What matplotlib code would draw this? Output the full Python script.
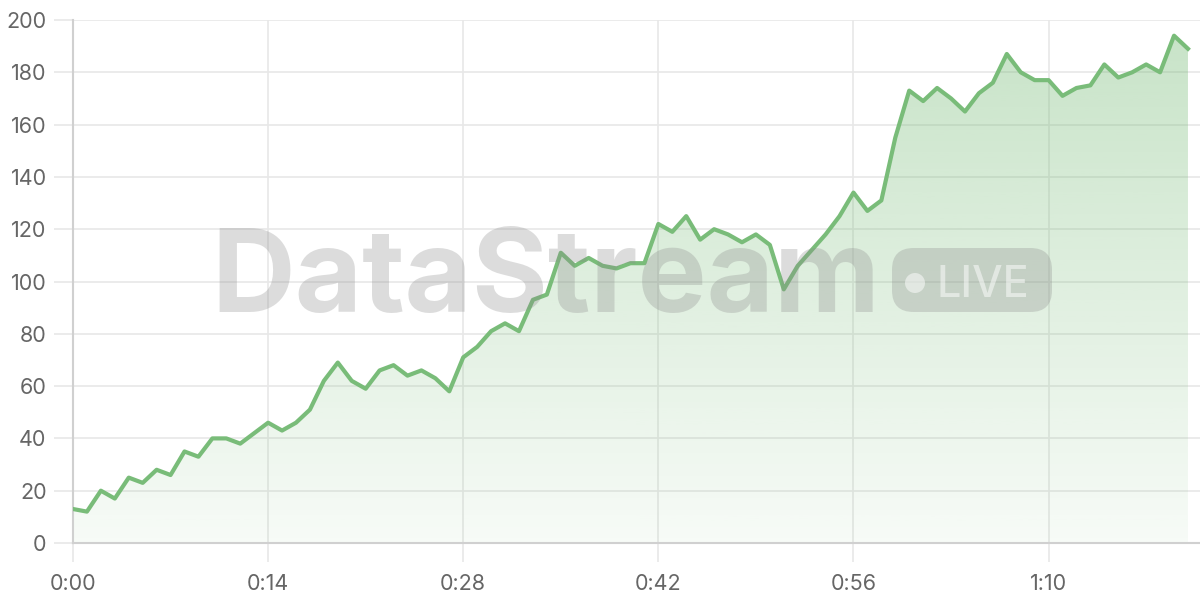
import matplotlib.pyplot as plt
import numpy as np
from matplotlib.patches import FancyBboxPatch, Ellipse

# seconds since start, one sample per second
t = np.arange(81)
vals = [13, 12, 20, 17, 25, 23, 28, 26, 35, 33,
        40, 40, 38, 42, 46, 43, 46, 51, 62, 69,
        62, 59, 66, 68, 64, 66, 63, 58, 71, 75,
        81, 84, 81, 93, 95, 111, 106, 109, 106, 105,
        107, 107, 122, 119, 125, 116, 120, 118, 115, 118,
        114, 97, 106, 112, 118, 125, 134, 127, 131, 155,
        173, 169, 174, 170, 165, 172, 176, 187, 180, 177,
        177, 171, 174, 175, 183, 178, 180, 183, 180, 194,
        189]
xticks = [0, 14, 28, 42, 56, 70]
xtick_labels = ["0:00", "0:14", "0:28", "0:42", "0:56", "1:10"]
yticks = list(range(0, 201, 20))

line_col = "#79bc79"
grid_col = "#e8e8e8"
text_col = "#666666"

plt.rcParams['font.family'] = ['Inter', 'DejaVu Sans']

fig = plt.figure(figsize=(12, 6), dpi=100)
ax = fig.add_axes([73/1200, 57/600, 1127/1200, 523/600])
xmax = 80 + 12/13.9
ax.set_xlim(0, xmax)
ax.set_ylim(0, 200)

# gradient fill under the line
alpha = np.linspace(0.06, 0.42, 256)
rgba = np.zeros((256, 1, 4))
rgba[..., 0] = 0x79/255
rgba[..., 1] = 0xbc/255
rgba[..., 2] = 0x79/255
rgba[:, 0, 3] = alpha
im = ax.imshow(rgba, extent=[0, xmax, 0, 200], origin="lower",
               aspect="auto", zorder=1)
poly = ax.fill_between(t, vals, 0, color="none")
im.set_clip_path(poly.get_paths()[0], transform=ax.transData)

ax.plot(t, vals, color=line_col, lw=3, zorder=3)

# grid and ticks
ax.set_xticks(xticks)
ax.set_xticklabels(xtick_labels)
ax.set_yticks(yticks)
ax.grid(True, color=grid_col, lw=1.2)
ax.set_axisbelow(True)
for s in ["top", "right"]:
    ax.spines[s].set_visible(False)
for s in ["left", "bottom"]:
    ax.spines[s].set_color("#d0d0d0")
    ax.spines[s].set_linewidth(1.5)
ax.tick_params(length=14, width=1.2, color=grid_col, labelcolor=text_col,
               labelsize=15.5, pad=5)
ax.tick_params(axis="x", pad=8)

# watermark
fig.text(211/1200, 1 - 312/600, "DataStream", fontsize=83.5, fontweight="bold",
         color="#8c8c8c", alpha=0.3, ha="left", va="baseline", zorder=5)
badge = FancyBboxPatch((892/1200, 1 - 312/600), 160/1200, 64/600,
                       boxstyle="round,pad=0,rounding_size=0.018",
                       transform=fig.transFigure, facecolor="#8c8c8c",
                       alpha=0.3, edgecolor="none", zorder=5,
                       mutation_aspect=2)
fig.patches.append(badge)
fig.patches.append(Ellipse((915/1200, 1 - 283/600), 20/1200, 20/600,
                           transform=fig.transFigure, facecolor="white",
                           alpha=0.5, edgecolor="none", zorder=6))
fig.text(937/1200, 1 - 297/600, "LIVE", fontsize=31, fontweight="medium",
         color="white", alpha=0.5, ha="left", va="baseline", zorder=6)

fig.savefig("out.png", dpi=100)
